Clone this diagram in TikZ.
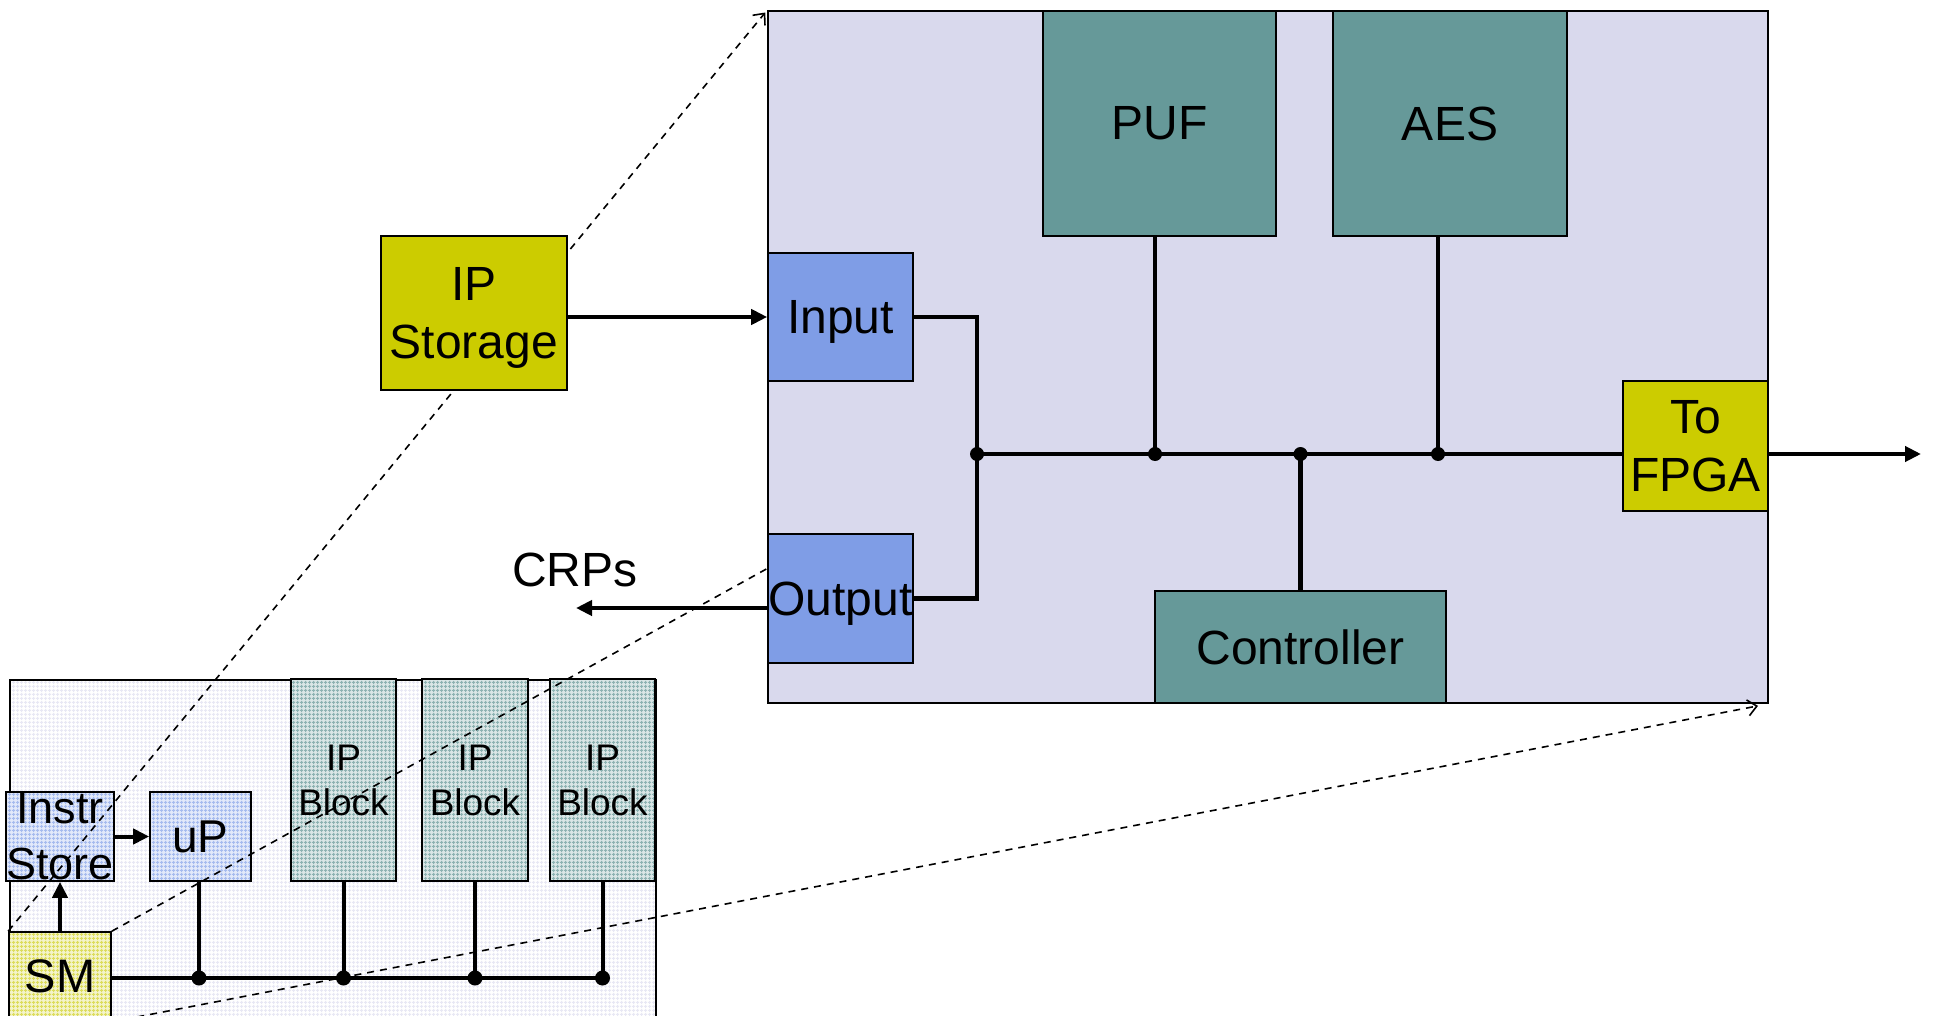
\documentclass[tikz,border=0pt]{standalone}
\usepackage{fontspec}
\setmainfont{Liberation Sans}
\usetikzlibrary{arrows.meta,patterns.meta,calc}

\definecolor{panelbg}{HTML}{D9D9ED}
\definecolor{cipherteal}{HTML}{669999}
\definecolor{portblue}{HTML}{7F9DE6}
\definecolor{ipyellow}{HTML}{CCCC00}
\definecolor{chipbg}{HTML}{FFFFFF}
\definecolor{chipgrid}{HTML}{E8E8F4}
\definecolor{upfill}{HTML}{E2E9FA}
\definecolor{upgrid}{HTML}{A6BBEE}
\definecolor{ipbfill}{HTML}{DAE6E6}
\definecolor{ipbgrid}{HTML}{8DB2B2}
\definecolor{smfill}{HTML}{F4F4CA}
\definecolor{smgrid}{HTML}{DCDC5C}

% fine woven grid used inside the small chip drawing
\tikzdeclarepattern{
  name=finegrid,
  type=uncolored,
  bounding box={(0pt,0pt) and (4pt,4pt)},
  tile size={(4pt,4pt)},
  code={
    \draw[line width=1.3pt] (0pt,2pt) -- (4pt,2pt) (2pt,0pt) -- (2pt,4pt);
  }
}

\begin{document}
\begin{tikzpicture}[x=1pt,y=-1pt,
  box/.style={draw, line width=1.6pt, rectangle, inner sep=0pt, align=center,
    font=\fontsize{48}{58}\selectfont},
  smallbox/.style={draw, line width=1.6pt, rectangle, inner sep=0pt, align=center,
    font=\fontsize{45}{56}\selectfont},
  gridfill/.style 2 args={preaction={fill=#1}, pattern=finegrid, pattern color=#2},
  wire/.style={line width=4.5pt},
  swire/.style={line width=4pt},
  arrow/.style={line width=4.5pt, -{Triangle[length=16pt,width=15pt]}},
  sarrow/.style={line width=4pt, -{Triangle[length=16pt,width=15pt]}},
  zoomline/.style={line width=1.6pt, dash pattern=on 7pt off 6pt},
  zoomarrow/.style={zoomline, -{Straight Barb[length=9pt,width=16pt,line width=1.6pt]}},
  dot/.style={circle, fill=black, inner sep=0pt, minimum size=#1},
  dot/.default=14pt,
]
\useasboundingbox (0,0) rectangle (1935,1016);
\clip (0,0) rectangle (1935,1016);

% ---------- small chip overview ----------
\node[draw, line width=1.6pt, rectangle, inner sep=0pt, minimum width=646pt, minimum height=420pt,
      gridfill={chipbg}{chipgrid}, anchor=north west] (chip) at (9,679) {};

\node[smallbox, gridfill={upfill}{upgrid}, minimum width=102pt, minimum height=89pt] (instr) at (60,836.5) {Instr\\Store};
\node[smallbox, gridfill={upfill}{upgrid}, minimum width=101pt, minimum height=89pt,
      font=\fontsize{46}{56}\selectfont] (up) at (200.5,836.5) {uP};
\node[smallbox, gridfill={ipbfill}{ipbgrid}, minimum width=105pt, minimum height=202pt,
      font=\fontsize{37}{45}\selectfont] (ipb1) at (343.5,780) {IP\\Block};
\node[smallbox, gridfill={ipbfill}{ipbgrid}, minimum width=106pt, minimum height=202pt,
      font=\fontsize{37}{45}\selectfont] (ipb2) at (475,780) {IP\\Block};
\node[smallbox, gridfill={ipbfill}{ipbgrid}, minimum width=105pt, minimum height=202pt,
      font=\fontsize{37}{45}\selectfont] (ipb3) at (602.5,780) {IP\\Block};
\node[smallbox, gridfill={smfill}{smgrid}, minimum width=102pt, minimum height=89pt,
      font=\fontsize{47}{56}\selectfont] (sm) at (60,976.5) {SM};

\coordinate (s1) at (199,978);
\coordinate (s2) at (343.5,978);
\coordinate (s3) at (475,978);
\coordinate (s4) at (602.5,978);

\draw[sarrow] (instr.east) -- (up.west);
\draw[sarrow] (sm.north) -- (instr.south);
\draw[swire] (s4 -| sm.east) -- (s4);
\draw[swire] (s1 |- up.south) -- (s1);
\draw[swire] (ipb1.south) -- (s2);
\draw[swire] (ipb2.south) -- (s3);
\draw[swire] (ipb3.south) -- (s4);
\foreach \j in {s1,s2,s3,s4} \node[dot=15pt] at (\j) {};

% ---------- big panel ----------
\node[draw, line width=1.6pt, rectangle, inner sep=0pt, fill=panelbg,
      minimum width=1000pt, minimum height=692pt] (panel) at (1268,357) {};

% zoom lines from the SM block to the panel
\coordinate (outtap) at ($(panel.north west)!0.805!(panel.south west)$);
\draw[zoomarrow, shorten >=3pt] (sm.north west) -- (panel.north west);
\draw[zoomline] (sm.north east) -- (outtap);
\draw[zoomarrow, shorten >=11pt] (sm.south east) -- (panel.south east);

\node[box, fill=cipherteal, minimum width=233pt, minimum height=225pt] (puf) at (1159.5,123.5) {PUF};
\node[box, fill=cipherteal, minimum width=234pt, minimum height=225pt] (aes) at (1450,123.5) {AES};
\node[box, fill=portblue, minimum width=145pt, minimum height=128pt, text depth=0pt] (input) at (840.5,317) {Input};
\node[box, fill=portblue, minimum width=145pt, minimum height=129pt, text depth=0pt] (output) at (840.5,598.5) {Output};
\node[box, fill=ipyellow, minimum width=145pt, minimum height=130pt] (fpga) at (1695.5,446) {To\\FPGA};
\node[box, fill=cipherteal, minimum width=291pt, minimum height=112pt] (ctrl) at (1300.5,647) {Controller};

\node[box, fill=ipyellow, minimum width=186pt, minimum height=154pt, text depth=0pt] (ipstore) at (474,313) {IP\\Storage};
\node[font=\fontsize{48}{58}\selectfont, inner sep=0pt] (crps) at (575,570) {CRPs};

\coordinate (ja) at (977,454);
\coordinate (jp) at (1155,454);
\coordinate (jc) at (1300.5,454);
\coordinate (je) at (1438,454);
\coordinate (fpgaout) at (1921,454);
\coordinate (crpend) at (576,608);

\draw[wire] (input.east) -| (ja);
\draw[wire] (output.east) -| (ja);
\draw[wire] (ja) -- (ja -| fpga.west);
\draw[wire] (jp |- puf.south) -- (jp);
\draw[wire] (je |- aes.south) -- (je);
\draw[wire] (ctrl.north) -- (jc);
\foreach \j in {ja,jp,jc,je} \node[dot] at (\j) {};

\draw[arrow] (input.west -| ipstore.east) -- (input.west);
\draw[arrow] (crpend -| output.west) -- (crpend);
\draw[arrow] (fpgaout -| fpga.east) -- (fpgaout);
\end{tikzpicture}
\end{document}
